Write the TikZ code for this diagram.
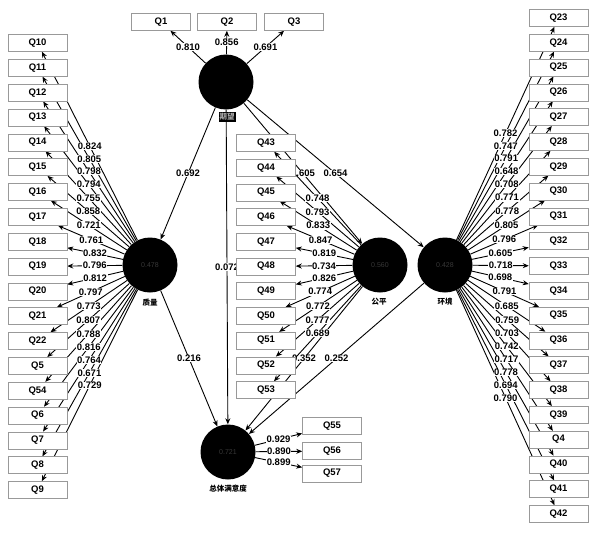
\documentclass[tikz,border=0pt]{standalone}
\usepackage{fontspec}
\setmainfont{Liberation Sans}
\newfontfamily\cjk{Noto Sans CJK SC}
\usetikzlibrary{arrows.meta,calc}
\pgfdeclarelayer{bg}
\pgfsetlayers{bg,main}
\tikzset{
 lv/.style={circle,fill=black,minimum size=55pt,inner sep=0pt,font=\fontsize{7}{8}\selectfont,text=black!78!white},
 ind/.style={draw=black!40,line width=0.5pt,fill=white,minimum width=59pt,minimum height=17pt,inner sep=0pt,font=\bfseries\fontsize{9.5}{10}\selectfont},
 ld/.style={fill=white,inner sep=0.5pt,font=\bfseries\fontsize{9.5}{10}\selectfont},
 lvname/.style={font=\cjk\bfseries\fontsize{7.5}{8}\selectfont,inner sep=1pt},
 arr/.style={line width=0.9pt,-{Stealth[length=6pt,width=5pt]}},
}
\begin{document}
\begin{tikzpicture}[x=1pt,y=-1pt]
\useasboundingbox (0,0) rectangle (595,533);
% latent variables
\node[lv] (QE) at (226,82) {};
\node[lv] (QL) at (150,265) {0.478};
\node[lv] (FP) at (380,265) {0.560};
\node[lv] (EN) at (445,265) {0.428};
\node[lv] (OS) at (228,452) {0.721};
% indicator boxes
\node[ind] (Q1) at (161,22) {Q1};
\node[ind] (Q2) at (227,22) {Q2};
\node[ind] (Q3) at (294,22) {Q3};
\foreach \q [count=\i from 0] in {10,11,12,13,14,15,16,17,18,19,20,21,22,5,54,6,7,8,9}
  \node[ind] (Q\q) at (37.5,{43+24.83*\i}) {Q\q};
\foreach \q [count=\i from 0] in {43,44,45,46,47,48,49,50,51,52,53}
  \node[ind] (Q\q) at (266,{143+24.7*\i}) {Q\q};
\foreach \q [count=\i from 0] in {23,24,25,26,27,28,29,30,31,32,33,34,35,36,37,38,39,4,40,41,42}
  \node[ind] (Q\q) at (558.5,{18+24.8*\i}) {Q\q};
\node[ind] (Q55) at (332,426) {Q55};
\node[ind] (Q56) at (332,451) {Q56};
\node[ind] (Q57) at (332,473.5) {Q57};
% connectors behind
\begin{pgfonlayer}{bg}
\draw[arr] (QE) -- node[ld]{0.692} (QL);
\draw[arr] (QE) -- node[ld]{0.072} (OS);
\draw[arr] (QE) -- node[ld]{0.605} (FP);
\draw[arr] (QE) -- node[ld]{0.654} (EN);
\draw[arr] (QL) -- node[ld]{0.216} (OS);
\draw[arr] (FP) -- node[ld]{0.352} (OS);
\draw[arr] (EN) -- node[ld]{0.252} (OS);
\foreach \q [count=\i] in {1,2,3}
  \draw[arr] (QE) -- coordinate[pos=.5] (mE\i) (Q\q);
\foreach \q [count=\i] in {10,11,12,13,14,15,16,17,18,19,20,21,22,5,54,6,7,8,9}
  \draw[arr] (QL) -- coordinate[pos=.5] (mL\i) (Q\q);
\foreach \q [count=\i] in {43,44,45,46,47,48,49,50,51,52,53}
  \draw[arr] (FP) -- coordinate[pos=.5] (mF\i) (Q\q);
\foreach \q [count=\i] in {23,24,25,26,27,28,29,30,31,32,33,34,35,36,37,38,39,4,40,41,42}
  \draw[arr] (EN) -- coordinate[pos=.5] (mN\i) (Q\q);
\foreach \q [count=\i] in {55,56,57}
  \draw[arr] (OS) -- coordinate[pos=.5] (mO\i) (Q\q);
\end{pgfonlayer}
% loading labels
\foreach \v [count=\i] in {0.810,0.856,0.691}
  \node[ld] at (mE\i) {\v};
\foreach \v [count=\i] in {0.824,0.805,0.798,0.794,0.755,0.858,0.721,0.761,0.832,0.796,0.812,0.797,0.773,0.807,0.788,0.816,0.764,0.671,0.729}
  \node[ld] at (mL\i) {\v};
\foreach \v [count=\i] in {0.748,0.793,0.833,0.847,0.819,0.734,0.826,0.774,0.772,0.777,0.689}
  \node[ld] at (mF\i) {\v};
\foreach \v [count=\i] in {0.782,0.747,0.791,0.648,0.708,0.771,0.778,0.805,0.796,0.605,0.718,0.698,0.791,0.685,0.759,0.703,0.742,0.717,0.778,0.694,0.790}
  \node[ld] at (mN\i) {\v};
\foreach \v [count=\i] in {0.929,0.890,0.899}
  \node[ld] at (mO\i) {\v};
% latent variable names
\node[lvname,fill=black,text=black!35!white] (nE) at (227,117) {期望};
\node[lvname] (nL) at (150,303) {质量};
\node[lvname] (nF) at (379,302) {公平};
\node[lvname] (nN) at (445,302) {环境};
\node[lvname] (nO) at (228,489) {总体满意度};
\end{tikzpicture}
\end{document}
